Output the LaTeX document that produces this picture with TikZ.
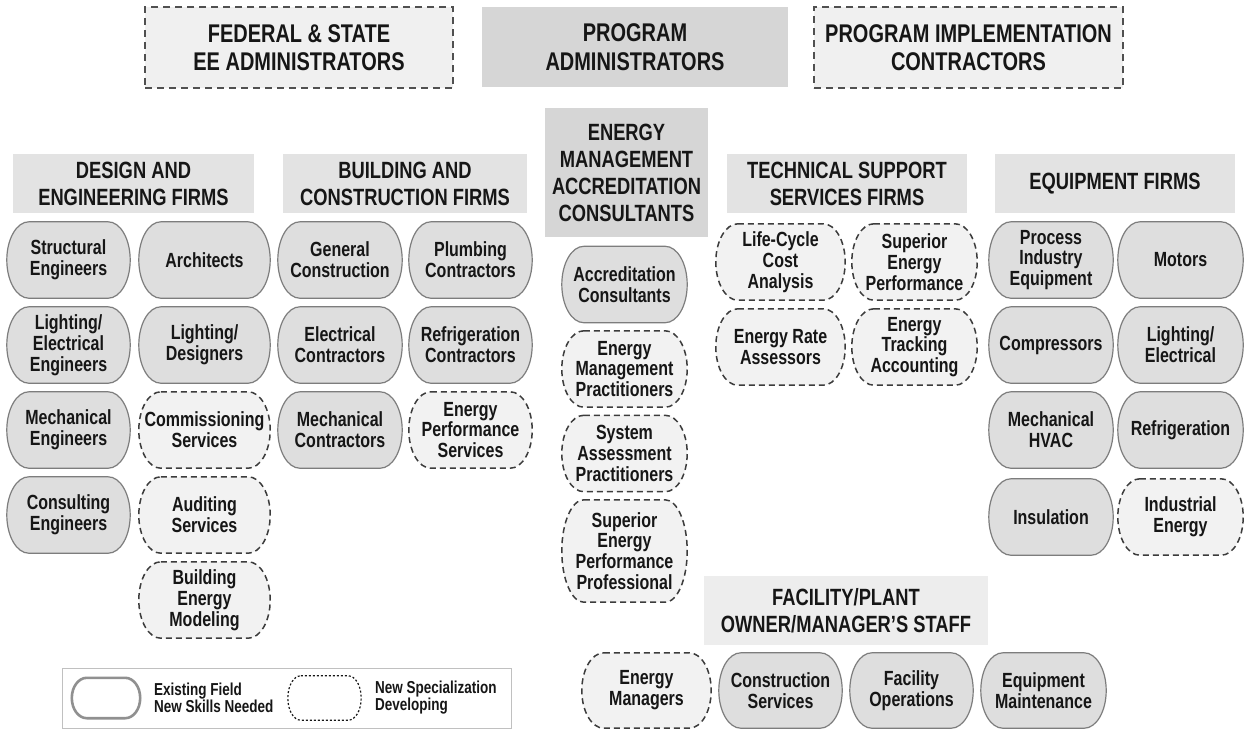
\documentclass[tikz,border=0pt]{standalone}
\usepackage{fontspec}
\setmainfont{Liberation Sans}[FakeStretch=0.78]
\usetikzlibrary{backgrounds,calc}

\definecolor{ink}{HTML}{161616}
\definecolor{hdrfill}{HTML}{E3E3E3}
\definecolor{hdrdark}{HTML}{D6D6D6}
\definecolor{hdrpale}{HTML}{EDEDED}
\definecolor{boxpale}{HTML}{F0F0F0}
\definecolor{boxline}{HTML}{505050}
\definecolor{oldfill}{HTML}{DEDEDE}
\definecolor{oldline}{HTML}{7D7D7D}
\definecolor{newfill}{HTML}{F2F2F2}
\definecolor{newline}{HTML}{3C3C3C}
\definecolor{legline}{HTML}{C0C0C0}

% outline of a pill: flat top and bottom, elliptic arcs on the sides
\newcommand{\pillpath}[3][22pt]{%
  \path[#2] let \p1=(#3.north), \p2=(#3.south), \n1={0.5*(\y1-\y2)} in
    ([xshift=#1]#3.north west) -- ([xshift=-#1]#3.north east)
    arc[start angle=90,end angle=-90,x radius=#1,y radius=\n1]
    -- ([xshift=#1]#3.south west)
    arc[start angle=270,end angle=90,x radius=#1,y radius=\n1] -- cycle;}

\newcommand{\topfont}{\fontsize{25.6}{28.5}\selectfont\bfseries}
\newcommand{\hdrfont}{\fontsize{23.5}{27}\selectfont\bfseries}
\newcommand{\pillfont}{\fontsize{20.5}{20.8}\selectfont\bfseries}
\newcommand{\legfont}{\fontsize{17.3}{17}\selectfont\bfseries}

\tikzset{
  topbox/.style={inner sep=0pt, align=center, text=ink, font=\topfont,
    minimum height=81pt},
  topdash/.style={topbox, fill=boxpale, draw=boxline, line width=1.8pt,
    dash pattern=on 7pt off 5pt},
  hdr/.style={inner sep=0pt, align=center, text=ink, font=\hdrfont,
    fill=hdrfill, minimum height=59pt},
  pilltext/.style={inner sep=0pt, align=center, text=ink, font=\pillfont,
    minimum width=124pt, minimum height=76pt},
  oldpill/.style={fill=oldfill, draw=oldline, line width=1.2pt},
  newpill/.style={fill=newfill, draw=newline, line width=1.5pt,
    dash pattern=on 6pt off 4pt},
  legtext/.style={inner sep=0pt, anchor=west, align=left, text=ink, font=\legfont},
}

\begin{document}
\begin{tikzpicture}[x=1pt,y=1pt]
\useasboundingbox (0,0) rectangle (1244,-729);

% top row
\node[topdash, minimum width=308pt] (fed) at (299,-47.5) {FEDERAL \& STATE\\EE ADMINISTRATORS};
\node[topbox, fill=hdrdark, minimum width=306pt, minimum height=80pt] (pa) at (635,-47) {PROGRAM\\ADMINISTRATORS};
\node[topdash, minimum width=309pt] (pic) at (968.5,-47.5) {PROGRAM IMPLEMENTATION\\CONTRACTORS};

% group headers
\node[hdr, minimum width=241pt] (hdesign) at (133.5,-183.5) {DESIGN AND\\ENGINEERING FIRMS};
\node[hdr, minimum width=244pt] (hbuild) at (405,-183.5) {BUILDING AND\\CONSTRUCTION FIRMS};
\node[hdr, fill=hdrdark, minimum width=163pt, minimum height=129pt] (hacc) at (626.5,-172.5) {ENERGY\\MANAGEMENT\\ACCREDITATION\\CONSULTANTS};
\node[hdr, minimum width=240pt] (htech) at (847,-183.5) {TECHNICAL SUPPORT\\SERVICES FIRMS};
\node[hdr, minimum width=240pt] (hequip) at (1115,-183.5) {EQUIPMENT FIRMS};
\node[hdr, fill=hdrpale, minimum width=284pt, minimum height=69pt] (hfac) at (846,-610.5) {FACILITY/PLANT\\OWNER/MANAGER'S STAFF};

% design and engineering firms
\node[pilltext, minimum width=123pt] (se) at (68.5,-260) {Structural\\Engineers};
\node[pilltext, minimum width=131pt] (ar) at (204.5,-260) {Architects};
\node[pilltext, minimum width=123pt] (le) at (68.5,-345) {Lighting/\\Electrical\\Engineers};
\node[pilltext, minimum width=131pt] (ld) at (204.5,-345) {Lighting/\\Designers};
\node[pilltext, minimum width=123pt] (me) at (68.5,-430) {Mechanical\\Engineers};
\node[pilltext, minimum width=131pt] (cm) at (204.5,-430) {Commissioning\\Services};
\node[pilltext, minimum width=123pt] (ce) at (68.5,-515) {Consulting\\Engineers};
\node[pilltext, minimum width=131pt] (au) at (204.5,-515) {Auditing\\Services};
\node[pilltext, minimum width=131pt] (bm) at (204.5,-600) {Building\\Energy\\Modeling};

% building and construction firms
\node[pilltext] (gc) at (340,-260) {General\\Construction};
\node[pilltext, minimum width=123pt] (pc) at (470.5,-260) {Plumbing\\Contractors};
\node[pilltext] (ec) at (340,-345) {Electrical\\Contractors};
\node[pilltext, minimum width=123pt] (rc) at (470.5,-345) {Refrigeration\\Contractors};
\node[pilltext] (mc) at (340,-430) {Mechanical\\Contractors};
\node[pilltext, minimum width=123pt] (ep) at (470.5,-430) {Energy\\Performance\\Services};

% accreditation consultants
\node[pilltext, minimum width=125pt] (ac) at (624.5,-284.5) {Accreditation\\Consultants};
\node[pilltext, minimum width=125pt] (emp) at (624.5,-369) {Energy\\Management\\Practitioners};
\node[pilltext, minimum width=125pt] (sap) at (624.5,-453.5) {System\\Assessment\\Practitioners};
\node[pilltext, minimum width=125pt, minimum height=102pt] (sepp) at (624.5,-551) {Superior\\Energy\\Performance\\Professional};

% technical support services firms
\node[pilltext, minimum width=129pt] (lcc) at (780.5,-262) {Life-Cycle\\Cost\\Analysis};
\node[pilltext, minimum width=125pt] (sep) at (914.5,-262) {Superior\\Energy\\Performance};
\node[pilltext, minimum width=129pt] (era) at (780.5,-347) {Energy Rate\\Assessors};
\node[pilltext, minimum width=125pt] (eta) at (914.5,-347) {Energy\\Tracking\\Accounting};

% equipment firms
\node[pilltext] (pie) at (1051,-260) {Process\\Industry\\Equipment};
\node[pilltext, minimum width=125pt] (mo) at (1180.5,-260) {Motors};
\node[pilltext] (co) at (1051,-345) {Compressors};
\node[pilltext, minimum width=125pt] (lel) at (1180.5,-345) {Lighting/\\Electrical};
\node[pilltext] (hv) at (1051,-430) {Mechanical\\HVAC};
\node[pilltext, minimum width=125pt] (rf) at (1180.5,-430) {Refrigeration};
\node[pilltext] (ins) at (1051,-517) {Insulation};
\node[pilltext, minimum width=125pt] (ie) at (1180.5,-517) {Industrial\\Energy};

% facility / plant staff
\node[pilltext, minimum width=129pt, minimum height=75pt] (em) at (646.5,-690.5) {Energy\\Managers};
\node[pilltext, minimum width=123pt, minimum height=75pt] (cs) at (780.5,-690.5) {Construction\\Services};
\node[pilltext, minimum width=123pt, minimum height=75pt] (fo) at (911.5,-690.5) {Facility\\Operations};
\node[pilltext, minimum width=125pt, minimum height=75pt] (eqm) at (1043.5,-690.5) {Equipment\\Maintenance};

% legend
\node[draw=legline, line width=1pt, minimum width=449pt, minimum height=60pt, inner sep=0pt] (legend) at (286.5,-698) {};
\node[inner sep=0pt, minimum width=68pt, minimum height=40pt] (lgold) at (106,-698) {};
\node[legtext] (lgoldtxt) at (154,-698) {Existing Field\\New Skills Needed};
\node[inner sep=0pt, minimum width=73pt, minimum height=44pt] (lgnew) at (324.5,-698) {};
\node[legtext] (lgnewtxt) at (375,-698) {New Specialization\\Developing};

\begin{scope}[on background layer]
  \fill[white] (0,0) rectangle (1244,-729);
  \foreach \nd in {se,ar,le,ld,me,ce,gc,pc,ec,rc,mc,ac,pie,mo,co,lel,hv,rf,ins,cs,fo,eqm}
    {\pillpath{oldpill}{\nd}}
  \foreach \nd in {cm,au,bm,ep,emp,sap,sepp,lcc,sep,era,eta,ie,em}
    {\pillpath{newpill}{\nd}}
  \pillpath[15pt]{draw=oldline!85, line width=2.6pt, fill=white}{lgold}
  \pillpath[13pt]{draw=ink, line width=1.2pt, dash pattern=on 2pt off 2pt, fill=white}{lgnew}
\end{scope}
\end{tikzpicture}
\end{document}
